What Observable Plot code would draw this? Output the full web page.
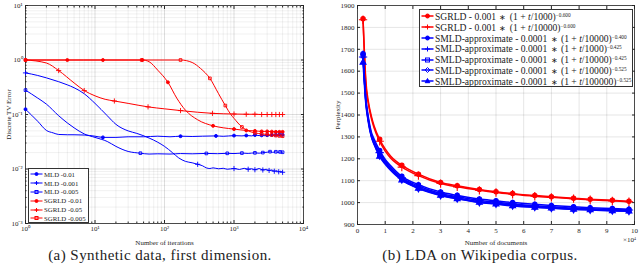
<!DOCTYPE html>
<html><head><meta charset="utf-8">
<script src="https://cdn.jsdelivr.net/npm/d3@7"></script>
<script src="https://cdn.jsdelivr.net/npm/@observablehq/plot@0.6"></script>
<style>
body{margin:0;background:#fff;width:640px;height:266px;position:relative;overflow:hidden;font-family:"Liberation Serif",serif;color:#222;}
.panel{position:absolute;top:0}
.cap{position:absolute;top:246px;font-size:15px;letter-spacing:0.45px;text-align:center;width:320px;line-height:19px}
.leg{position:absolute;background:#fff;border:0.8px solid #333;box-sizing:border-box;overflow:hidden}
.leg .row{display:flex;align-items:center;white-space:nowrap}
.leg svg{flex:none}
.op{font-size:0.8em;margin:0 1px}
sup{font-size:0.55em;vertical-align:0.6em;line-height:0}
</style></head><body>
<div id="a" class="panel" style="left:0"></div>
<div id="b" class="panel" style="left:320px"></div>
<div id="legA" class="leg" style="left:28px;top:168px;width:61px;height:55px;padding-top:1px"></div>
<div id="legB" class="leg" style="left:419px;top:9px;width:214px;height:78px;padding-top:1px"></div>
<div style="position:absolute;left:623px;top:236px;font-size:7px">×10<sup>4</sup></div>
<div class="cap" style="left:0">(a) Synthetic data, first dimension.</div>
<div class="cap" style="left:320px">(b) LDA on Wikipedia corpus.</div>
<script>
// ---------- Panel (a) data: [iteration, discrete TV error] ----------
const mld_01 = [[1,0.125],[1.5,0.075],[2,0.051],[2.5,0.046],[3,0.043],[4,0.0425],[5,0.0425],[7,0.042],[10,0.04],[13,0.038],[20,0.038],[30,0.039],[50,0.039],[80,0.04],[120,0.039],[170,0.04],[250,0.0395],[350,0.04],[550,0.0405],[700,0.0398],[1000,0.041],[1300,0.0405],[1500,0.0412],[1800,0.0405],[2000,0.042],[2300,0.041],[2500,0.0415],[2800,0.0408],[3000,0.0418],[3300,0.0412],[3500,0.0422],[3800,0.041],[4000,0.0425],[4300,0.0415],[4500,0.0428],[4800,0.0418],[5000,0.0425]];
const mld_01_marks = [1,13,170,550,1000,1500,2000,2500,3000,3500,4000,4500,5000];
const mld_001 = [[1,0.58],[1.5,0.52],[2,0.47],[3,0.4],[4,0.35],[5,0.31],[7,0.24],[10,0.16],[15,0.095],[20,0.066],[30,0.05],[40,0.045],[60,0.037],[80,0.031],[100,0.026],[130,0.02],[160,0.016],[200,0.0138],[250,0.013],[300,0.0122],[350,0.0115],[400,0.0105],[450,0.0102],[500,0.0105],[600,0.0101],[700,0.0103],[800,0.0099],[1000,0.0102],[1200,0.0098],[1400,0.0103],[1600,0.0099],[1800,0.0101],[2000,0.0097],[2300,0.0102],[2600,0.0096],[2900,0.0099],[3200,0.0094],[3500,0.0096],[3800,0.0091],[4100,0.0093],[4400,0.0089],[4700,0.0091],[5000,0.0087]];
const mld_001_marks = [1,300,1000,1600,2000,2600,3200,3800,4400,5000];
const mld_005 = [[1,0.28],[1.5,0.2],[2,0.155],[3,0.095],[4,0.07],[5,0.057],[7,0.044],[10,0.038],[15,0.032],[20,0.026],[30,0.021],[45,0.0195],[60,0.0188],[80,0.019],[120,0.0188],[170,0.0192],[250,0.019],[400,0.0193],[580,0.0191],[800,0.0194],[1000,0.0192],[1300,0.0196],[1600,0.0193],[2000,0.0198],[2300,0.0195],[2600,0.02],[3000,0.0203],[3300,0.0208],[3600,0.0202],[4000,0.0207],[4300,0.0201],[4600,0.0206],[5000,0.0203]];
const mld_005_marks = [1,45,400,800,1300,2000,2600,3300,4000,4600,5000];
const sgrld_01 = [[1,1],[4,1],[13,1],[30,1],[48,1],[60,0.93],[80,0.65],[112,0.39],[150,0.2],[200,0.12],[300,0.08],[500,0.062],[700,0.057],[1000,0.054],[1500,0.051],[2000,0.05],[2500,0.049],[3000,0.049],[3500,0.0485],[4000,0.048],[4500,0.048],[5000,0.048]];
const sgrld_01_marks = [1,4,13,48,112,500,1000,1500,2000,2500,3000,3500,4000,4500,5000];
const sgrld_05 = [[1,1],[2,0.88],[3,0.64],[5,0.38],[7,0.275],[10,0.22],[14,0.19],[19,0.177],[30,0.16],[58,0.138],[100,0.127],[170,0.118],[300,0.11],[490,0.105],[1000,0.102],[1500,0.101],[2000,0.101],[2500,0.1],[3000,0.1],[3500,0.1],[4000,0.1],[4500,0.1],[5000,0.1]];
const sgrld_05_marks = [3,7,19,58,170,490,1000,1500,2000,2500,3000,3500,4000,4500,5000];
const sgrld_005 = [[1,1],[47,1],[100,1],[170,1],[250,0.9],[330,0.7],[450,0.46],[600,0.24],[750,0.146],[900,0.1],[1000,0.085],[1300,0.059],[1600,0.05],[2000,0.046],[2500,0.044],[3000,0.043],[3500,0.042],[4000,0.041],[4500,0.0405],[5000,0.04]];
const sgrld_005_marks = [1,47,170,450,750,1300,2000,2500,3000,3500,4000,4500,5000];
const labelsA = ["MLD -0.01","MLD -0.001","MLD -0.005","SGRLD -0.01","SGRLD -0.05","SGRLD -0.005"];

// ---------- Panel (b) data: documents (x10^4) and perplexity ----------
const docs = [0.2,0.3,0.4,0.5,0.6,0.8,1.0,1.2,1.4,1.6,2.2,3.0,3.6,4.4,5.0,5.6,6.4,7.0,7.8,8.4,9.2,9.8];
const docMarks = [0.2,0.8,1.6,2.2,3.0,3.6,4.4,5.0,5.6,6.4,7.0,7.8,8.4,9.2,9.8];
const sgrld_1000  = [1840,1560,1455,1395,1350,1289,1245,1212,1188,1170,1130,1092,1077,1060,1050,1041,1032,1027,1020,1015,1011,1006];
const sgrld_10000 = [1835,1545,1445,1385,1340,1280,1235,1203,1180,1162,1123,1087,1072,1056,1046,1038,1029,1024,1018,1013,1008,1004];
const smld_a = [1680,1480,1385,1322,1290,1238,1197,1168,1142,1120,1082,1048,1033,1016,1008,1000,992,987,981,977,973,970];
const smld_b = [1665,1470,1375,1312,1278,1228,1190,1160,1135,1113,1076,1042,1027,1010,1002,994,986,981,975,972,968,966];
const smld_c = [1670,1465,1370,1307,1272,1222,1185,1155,1130,1108,1070,1037,1022,1005,997,990,982,977,972,969,965,963];
const smld_d = [1675,1462,1366,1303,1268,1215,1180,1151,1126,1105,1066,1034,1019,1002,995,987,980,975,970,967,964,962];
const smld_e = [1640,1450,1360,1300,1265,1210,1175,1147,1123,1102,1064,1032,1017,1000,993,985,978,974,969,966,962,960];
const labelsB = [
  "SGRLD - 0.001 <span class='op'>∗</span> (1 + <i>t</i>/1000)<sup>−0.600</sup>",
  "SGRLD - 0.001 <span class='op'>∗</span> (1 + <i>t</i>/10000)<sup>−0.600</sup>",
  "SMLD-approximate - 0.0001 <span class='op'>∗</span> (1 + <i>t</i>/10000)<sup>−0.400</sup>",
  "SMLD-approximate - 0.0001 <span class='op'>∗</span> (1 + <i>t</i>/1000)<sup>−0.425</sup>",
  "SMLD-approximate - 0.0001 <span class='op'>∗</span> (1 + <i>t</i>/10000)<sup>−0.425</sup>",
  "SMLD-approximate - 0.0001 <span class='op'>∗</span> (1 + <i>t</i>/10000)<sup>−0.525</sup>",
  "SMLD-approximate - 0.0001 <span class='op'>∗</span> (1 + <i>t</i>/100000)<sup>−0.525</sup>"
];

const BLUE = "#0000ff", RED = "#ff0000", AX = "#262626";
const supMap = {"-":"⁻","0":"⁰","1":"¹","2":"²","3":"³","4":"⁴"};
const pow10 = d => "10" + String(Math.round(Math.log10(d))).split("").map(c => supMap[c]).join("");

const majorAx = [1,10,100,1000,10000];
const majorAy = [0.001,0.01,0.1,1,10];
const minors = (lo, hi) => { const r = []; for (let k = lo; k < hi; k++) for (let m = 2; m <= 9; m++) r.push(m * 10 ** k); return r; };
const minorAx = minors(0, 4), minorAy = minors(-3, 1);

function seriesA(data, marks, color, sym) {
  const pts = data.filter(d => marks.includes(d[0]));
  const filled = sym === "circle";
  return [
    Plot.line(data, {x: d => d[0], y: d => d[1], stroke: color, strokeWidth: 1, curve: "monotone-x"}),
    Plot.dot(pts, {x: d => d[0], y: d => d[1], symbol: sym, r: sym === "plus" ? 1.8 : 1.5,
      fill: filled ? color : "none", stroke: color, strokeWidth: 0.9})
  ];
}

const plotA = Plot.plot({
  width: 320, height: 248,
  marginLeft: 25, marginRight: 17, marginTop: 5, marginBottom: 25,
  style: {fontFamily: "Liberation Serif, serif", fontSize: "7px", background: "white", color: AX},
  x: {type: "log", domain: [1, 1e4]},
  y: {type: "log", domain: [1e-3, 10]},
  marks: [
    Plot.gridX(minorAx, {stroke: "#000", strokeOpacity: 0.06}),
    Plot.gridY(minorAy, {stroke: "#000", strokeOpacity: 0.06}),
    Plot.gridX(majorAx, {stroke: "#000", strokeOpacity: 0.13}),
    Plot.gridY(majorAy, {stroke: "#000", strokeOpacity: 0.13}),
    Plot.axisX(majorAx, {anchor: "bottom", tickSize: 0, tickPadding: 3, tickFormat: pow10, label: "Number of iterations", labelAnchor: "center", labelOffset: 21, labelArrow: "none", fontSize: 7}),
    Plot.axisY(majorAy, {anchor: "left", tickSize: 0, tickPadding: 3, tickFormat: pow10, label: "Discrete TV Error", labelAnchor: "center", labelOffset: 19, labelArrow: "none", fontSize: 7}),
    Plot.axisX(majorAx, {anchor: "bottom", tickSize: -3, tickFormat: () => "", label: null}),
    Plot.axisX(majorAx, {anchor: "top", tickSize: -3, tickFormat: () => "", label: null}),
    Plot.axisY(majorAy, {anchor: "left", tickSize: -3, tickFormat: () => "", label: null}),
    Plot.axisY(majorAy, {anchor: "right", tickSize: -3, tickFormat: () => "", label: null}),
    Plot.axisX(minorAx, {anchor: "bottom", tickSize: -1.5, tickFormat: () => "", label: null}),
    Plot.axisX(minorAx, {anchor: "top", tickSize: -1.5, tickFormat: () => "", label: null}),
    Plot.axisY(minorAy, {anchor: "left", tickSize: -1.5, tickFormat: () => "", label: null}),
    Plot.axisY(minorAy, {anchor: "right", tickSize: -1.5, tickFormat: () => "", label: null}),
    Plot.frame({stroke: AX, strokeWidth: 0.8}),
    ...seriesA(mld_01, mld_01_marks, BLUE, "circle"),
    ...seriesA(mld_001, mld_001_marks, BLUE, "plus"),
    ...seriesA(mld_005, mld_005_marks, BLUE, "square"),
    ...seriesA(sgrld_01, sgrld_01_marks, RED, "circle"),
    ...seriesA(sgrld_05, sgrld_05_marks, RED, "plus"),
    ...seriesA(sgrld_005, sgrld_005_marks, RED, "square")
  ]
});
document.getElementById("a").append(plotA);

// ---------- Panel (b) ----------
const seriesB = [
  {v: sgrld_1000, c: RED, s: "circle", f: true},
  {v: sgrld_10000, c: RED, s: "plus", f: false},
  {v: smld_a, c: BLUE, s: "circle", f: true},
  {v: smld_b, c: BLUE, s: "plus", f: false},
  {v: smld_c, c: BLUE, s: "square", f: false},
  {v: smld_d, c: BLUE, s: "diamond", f: false},
  {v: smld_e, c: BLUE, s: "triangle", f: true}
];
const marksB = [];
seriesB.forEach(s => {
  const data = docs.map((x, i) => ({x, y: s.v[i]}));
  marksB.push(Plot.line(data, {x: "x", y: "y", stroke: s.c, strokeWidth: 1.5, curve: "monotone-x"}));
  marksB.push(Plot.dot(data.filter(d => docMarks.includes(d.x)), {x: "x", y: "y", symbol: s.s,
    r: s.s === "plus" ? 2.8 : 2.2, fill: s.f ? s.c : "none", stroke: s.c, strokeWidth: 1.1}));
});
const ticksBx = d3.range(0, 11), ticksBy = d3.range(900, 2000, 100);
const plotB = Plot.plot({
  width: 320, height: 248,
  marginLeft: 37, marginRight: 6, marginTop: 5, marginBottom: 24,
  style: {fontFamily: "Liberation Serif, serif", fontSize: "7px", background: "white", color: AX},
  x: {domain: [0, 10]},
  y: {domain: [900, 1900]},
  marks: [
    Plot.gridX(ticksBx, {stroke: "#000", strokeOpacity: 0.1}),
    Plot.gridY(ticksBy, {stroke: "#000", strokeOpacity: 0.1}),
    Plot.axisX(ticksBx, {anchor: "bottom", tickSize: 0, tickPadding: 4, tickFormat: d => String(d), label: "Number of documents", labelAnchor: "center", labelOffset: 20, labelArrow: "none", fontSize: 7}),
    Plot.axisY(ticksBy, {anchor: "left", tickSize: 0, tickPadding: 3, tickFormat: d => String(d), label: "Perplexity", labelAnchor: "center", labelOffset: 22, labelArrow: "none", fontSize: 7}),
    Plot.axisX(ticksBx, {anchor: "bottom", tickSize: -3, tickFormat: () => "", label: null}),
    Plot.axisX(ticksBx, {anchor: "top", tickSize: -3, tickFormat: () => "", label: null}),
    Plot.axisY(ticksBy, {anchor: "left", tickSize: -3, tickFormat: () => "", label: null}),
    Plot.axisY(ticksBy, {anchor: "right", tickSize: -3, tickFormat: () => "", label: null}),
    Plot.frame({stroke: AX, strokeWidth: 0.8}),
    ...marksB
  ]
});
document.getElementById("b").append(plotB);

// ---------- Legends ----------
function sample(color, sym, filled, w, sw, rr) {
  const cx = w / 2, cy = 4, r = rr;
  let m = "";
  const f = filled ? color : "none";
  if (sym === "circle") m = `<circle cx="${cx}" cy="${cy}" r="${r}" fill="${f}" stroke="${color}"/>`;
  else if (sym === "plus") m = `<path d="M${cx-r-0.5},${cy}h${2*r+1}M${cx},${cy-r-0.5}v${2*r+1}" stroke="${color}" stroke-width="1"/>`;
  else if (sym === "square") m = `<rect x="${cx-r}" y="${cy-r}" width="${2*r}" height="${2*r}" fill="none" stroke="${color}"/>`;
  else if (sym === "diamond") m = `<path d="M${cx},${cy-r-0.5}L${cx+r+0.5},${cy}L${cx},${cy+r+0.5}L${cx-r-0.5},${cy}Z" fill="none" stroke="${color}"/>`;
  else if (sym === "triangle") m = `<path d="M${cx},${cy-r-0.5}L${cx+r+0.3},${cy+r-0.3}L${cx-r-0.3},${cy+r-0.3}Z" fill="${color}" stroke="${color}"/>`;
  return `<svg width="${w}" height="8"><line x1="0.5" y1="${cy}" x2="${w-0.5}" y2="${cy}" stroke="${color}" stroke-width="${sw}"/>${m}</svg>`;
}
const legA = document.getElementById("legA");
const symA = [["circle",true,BLUE],["plus",false,BLUE],["square",false,BLUE],["circle",true,RED],["plus",false,RED],["square",false,RED]];
labelsA.forEach((t, i) => {
  legA.insertAdjacentHTML("beforeend",
    `<div class="row" style="height:8.8px;font-size:6.8px;padding-left:1px">${sample(symA[i][2], symA[i][0], symA[i][1], 13, 1, 1.5)}<span style="margin-left:1px">${t}</span></div>`);
});
const legB = document.getElementById("legB");
seriesB.forEach((s, i) => {
  legB.insertAdjacentHTML("beforeend",
    `<div class="row" style="height:10.8px;font-size:9.6px;padding-left:1px">${sample(s.c, s.s, s.f, 13, 1.5, 2)}<span style="margin-left:1px">${labelsB[i]}</span></div>`);
});
</script>
</body></html>
